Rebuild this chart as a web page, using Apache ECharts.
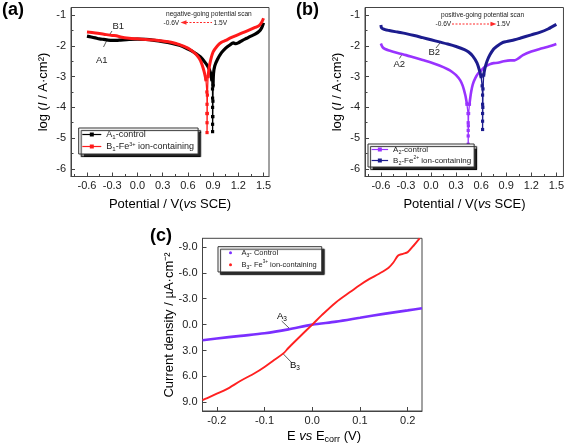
<!DOCTYPE html>
<html><head><meta charset="utf-8">
<script src="https://cdn.jsdelivr.net/npm/echarts@6/dist/echarts.min.js"></script>
<style>html,body{margin:0;padding:0;background:#fff}#c{width:567px;height:445px}</style>
</head><body><div id="c"></div>
<script>
// ---------------- data ----------------
const potentialTicks = [-0.6, -0.3, 0, 0.3, 0.6, 0.9, 1.2, 1.5];
const potentialMinorTicks = [-0.75, -0.45, -0.15, 0.15, 0.45, 0.75, 1.05, 1.35];
const logTicks = [-6, -5, -4, -3, -2, -1];
const logMinorTicks = [-5.5, -4.5, -3.5, -2.5, -1.5];
const eTicks = [-0.2, -0.1, 0, 0.1, 0.2];
const currentTicks = [-9, -6, -3, 0, 3, 6, 9];

// (a) negative-going scan  [potential V, log I]
const a1Cathodic = [[-0.6,-1.68],[-0.55,-1.71],[-0.5,-1.74],[-0.45,-1.77],[-0.4,-1.79],[-0.35,-1.81],[-0.3,-1.82],[-0.25,-1.82],[-0.2,-1.81],[-0.1,-1.79],[0,-1.78],[0.1,-1.79],[0.2,-1.82],[0.3,-1.86],[0.4,-1.91],[0.5,-1.98],[0.6,-2.1],[0.65,-2.17],[0.7,-2.26],[0.75,-2.36],[0.8,-2.52],[0.84,-2.68],[0.87,-2.88],[0.885,-3.1]];
const a1Spike = [[0.885,-3.1],[0.893,-3.4],[0.894,-3.7],[0.894,-4.0],[0.894,-4.3],[0.894,-4.55],[0.894,-4.79],[0.896,-4.3],[0.898,-3.8],[0.9,-3.3]];
const a1Anodic = [[0.9,-3.3],[0.905,-2.9],[0.92,-2.65],[0.95,-2.45],[1.0,-2.22],[1.05,-2.07],[1.1,-1.97],[1.14,-1.9],[1.17,-1.93],[1.2,-1.9],[1.25,-1.82],[1.3,-1.75],[1.35,-1.68],[1.4,-1.62],[1.45,-1.52],[1.48,-1.4],[1.5,-1.25]];
const b1Cathodic = [[-0.6,-1.55],[-0.5,-1.58],[-0.4,-1.62],[-0.3,-1.66],[-0.25,-1.67],[-0.2,-1.71],[-0.1,-1.75],[0,-1.77],[0.1,-1.79],[0.2,-1.81],[0.3,-1.84],[0.4,-1.88],[0.5,-1.96],[0.6,-2.07],[0.65,-2.16],[0.7,-2.28],[0.75,-2.48],[0.79,-2.8],[0.815,-3.1]];
const b1Spike = [[0.815,-3.1],[0.826,-3.5],[0.828,-3.9],[0.828,-4.2],[0.828,-4.5],[0.828,-4.82],[0.83,-4.2],[0.832,-3.6],[0.84,-3.0]];
const b1Anodic = [[0.84,-3.0],[0.86,-2.6],[0.9,-2.2],[0.95,-2.0],[1.0,-1.88],[1.05,-1.82],[1.1,-1.75],[1.15,-1.69],[1.2,-1.63],[1.3,-1.52],[1.4,-1.4],[1.45,-1.33],[1.48,-1.22],[1.5,-1.1]];

// (b) positive-going scan
const a2Cathodic = [[-0.6,-1.92],[-0.58,-2.04],[-0.55,-2.1],[-0.5,-2.15],[-0.4,-2.23],[-0.3,-2.3],[-0.2,-2.38],[-0.1,-2.46],[0,-2.54],[0.1,-2.64],[0.2,-2.76],[0.25,-2.84],[0.3,-2.95],[0.35,-3.12],[0.38,-3.3],[0.41,-3.6],[0.43,-3.9]];
const a2Spike = [[0.43,-3.9],[0.443,-4.2],[0.445,-4.5],[0.445,-4.75],[0.445,-4.93],[0.445,-5.2],[0.447,-4.6],[0.45,-4.2],[0.46,-3.9]];
const a2Anodic = [[0.46,-3.9],[0.48,-3.5],[0.5,-3.25],[0.53,-3.05],[0.565,-2.89],[0.6,-2.8],[0.645,-2.68],[0.7,-2.6],[0.75,-2.56],[0.8,-2.55],[0.87,-2.5],[0.95,-2.47],[1.0,-2.47],[1.05,-2.4],[1.1,-2.3],[1.2,-2.18],[1.3,-2.1],[1.4,-2.03],[1.5,-1.94]];
const b2Cathodic = [[-0.6,-1.32],[-0.59,-1.42],[-0.55,-1.47],[-0.5,-1.5],[-0.4,-1.55],[-0.3,-1.6],[-0.2,-1.66],[-0.1,-1.73],[0,-1.8],[0.1,-1.87],[0.2,-1.94],[0.3,-2.02],[0.4,-2.12],[0.45,-2.2],[0.5,-2.33],[0.55,-2.55],[0.58,-2.8],[0.6,-3.0]];
const b2Spike = [[0.6,-3.0],[0.612,-3.3],[0.617,-3.6],[0.617,-3.9],[0.617,-4.2],[0.617,-4.45],[0.617,-4.72],[0.62,-4.0],[0.622,-3.4],[0.63,-2.95]];
const b2Anodic = [[0.63,-2.95],[0.645,-2.73],[0.67,-2.5],[0.705,-2.29],[0.75,-2.1],[0.785,-2.02],[0.85,-1.9],[0.9,-1.86],[1.0,-1.8],[1.064,-1.75],[1.2,-1.64],[1.3,-1.56],[1.4,-1.45],[1.5,-1.3]];

// (c) linear polarization  [E vs Ecorr V, current density µA/cm2]
const a3 = [[-0.23,1.8],[-0.2,1.6],[-0.15,1.3],[-0.1,1.0],[-0.05,0.55],[0,0.0],[0.05,-0.35],[0.1,-0.8],[0.15,-1.25],[0.2,-1.65],[0.23,-1.9]];
const b3 = [[-0.23,8.75],[-0.22,8.5],[-0.2,8.0],[-0.18,7.5],[-0.15,6.5],[-0.12,5.6],[-0.1,4.9],[-0.08,4.1],[-0.06,3.3],[-0.05,2.7],[-0.03,1.6],[0,0.0],[0.02,-1.1],[0.05,-2.6],[0.08,-3.8],[0.1,-4.6],[0.12,-5.3],[0.14,-5.9],[0.16,-6.6],[0.17,-7.2],[0.18,-8.0],[0.19,-8.2],[0.2,-8.4],[0.21,-9.0],[0.225,-10.0]];

const legendLabels = {
  A1: '{t|A}{s|1}{t|-control}',
  B1: '{t|B}{s|1}{t|-Fe}{p|3+}{t| ion-containing}',
  A2: '{t|A}{s|2}{t|-control}',
  B2: '{t|B}{s|2}{t|-Fe}{p|2+}{t| ion-containing}',
  A3: '{t|A}{s|3}{t|- Control}',
  B3: '{t|B}{s|3}{t|- Fe}{p|3+}{t| ion-containing}'
};

// ---------------- styling ----------------
const FONT = '"Liberation Sans", Arial, sans-serif';
const AX = '#444';
const C_BLACK = '#000000', C_RED = '#ff1a1a', C_NAVY = '#1c1c8e', C_PURPLE = '#9933ff', C_VIOLET = '#7b2fff', C_RED3 = '#ff2020';

function richFor(size, lh) {
  return {
    t: {fontSize: size, lineHeight: lh, fontFamily: FONT, color: '#222'},
    s: {fontSize: size * 0.68, lineHeight: size * 0.6, verticalAlign: 'bottom', fontFamily: FONT, color: '#222'},
    p: {fontSize: size * 0.62, lineHeight: size * 0.6, verticalAlign: 'top', fontFamily: FONT, color: '#222'}
  };
}

function mainX(grid, min, max, ticks, dec) {
  return {gridIndex: grid, type: 'value', min, max, position: 'bottom',
    axisLine: {show: true, onZero: false, lineStyle: {color: AX, width: 1}},
    axisTick: {show: true, inside: true, length: 4, customValues: ticks, lineStyle: {color: AX}},
    axisLabel: {customValues: ticks, formatter: v => v.toFixed(dec), margin: 4, fontSize: 11, color: '#222', fontFamily: FONT},
    splitLine: {show: false}};
}
function minorX(grid, min, max, ticks) {
  return {gridIndex: grid, type: 'value', min, max, position: 'bottom',
    axisLine: {show: false, onZero: false},
    axisTick: {show: true, inside: true, length: 2.5, customValues: ticks, lineStyle: {color: AX}},
    axisLabel: {show: false}, splitLine: {show: false}};
}
function mainY(grid, min, max, ticks, fmt, inverse) {
  return {gridIndex: grid, type: 'value', min, max, inverse: !!inverse, position: 'left',
    axisLine: {show: true, onZero: false, lineStyle: {color: AX, width: 1}},
    axisTick: {show: true, inside: true, length: 4, customValues: ticks, lineStyle: {color: AX}},
    axisLabel: {customValues: ticks, formatter: fmt, margin: 5, fontSize: 11, color: '#222', fontFamily: FONT},
    splitLine: {show: false}};
}
function minorY(grid, min, max, ticks) {
  return {gridIndex: grid, type: 'value', min, max, position: 'left',
    axisLine: {show: false, onZero: false},
    axisTick: {show: true, inside: true, length: 2.5, customValues: ticks, lineStyle: {color: AX}},
    axisLabel: {show: false}, splitLine: {show: false}};
}
function curve(name, data, color, xi, yi, width) {
  return {name, type: 'line', data, xAxisIndex: xi, yAxisIndex: yi, color,
    symbol: 'rect', symbolSize: 3, showSymbol: false, smooth: 0.3,
    lineStyle: {color, width: width}, itemStyle: {color}, silent: true};
}
function spike(name, data, color, xi, yi) {
  return {name, type: 'line', data, xAxisIndex: xi, yAxisIndex: yi, color,
    symbol: 'rect', symbolSize: 3.2, showSymbol: true, showAllSymbol: true,
    lineStyle: {color, width: 1.3}, itemStyle: {color}, silent: true};
}
function legendBox(left, top, names, size, lh, pad, iw, ih, gap, icon) {
  return {left, top, orient: 'vertical', selectedMode: false,
    data: names.map(n => icon ? {name: n, icon} : {name: n}),
    itemWidth: iw, itemHeight: ih, itemGap: gap, padding: pad,
    backgroundColor: '#fff', borderColor: '#333', borderWidth: 1, borderRadius: 0,
    shadowColor: 'rgba(0,0,0,0.85)', shadowBlur: 1, shadowOffsetX: 2.5, shadowOffsetY: 2.5,
    lineStyle: {width: 1.2}, itemStyle: {borderWidth: 0},
    formatter: n => legendLabels[n],
    textStyle: {fontSize: size, fontFamily: FONT, color: '#222', rich: richFor(size, lh)}};
}
function txt(x, y, text, size, opts) {
  return Object.assign({type: 'text', x, y, silent: true,
    style: Object.assign({text, fontSize: size, fontFamily: FONT, fill: '#222', align: 'left', verticalAlign: 'middle'}, (opts && opts.style) || {})},
    (opts && opts.el) || {});
}
function ln(x1, y1, x2, y2, color, w, dash) {
  return {type: 'line', silent: true, shape: {x1, y1, x2, y2}, style: {stroke: color, lineWidth: w, lineDash: dash || null}};
}
const titleRich = {
  n: {fontSize: 13, lineHeight: 16, fontFamily: FONT, color: '#111'},
  i: {fontSize: 13, lineHeight: 16, fontFamily: FONT, fontStyle: 'italic', color: '#111'},
  sub: {fontSize: 9, lineHeight: 16, padding: [7, 0, 0, 0], fontFamily: FONT, color: '#111'}
};

const option = {
  animation: false,
  backgroundColor: '#fff',
  grid: [
    {left: 71, top: 7.5, width: 198, height: 169, show: true, borderColor: AX, borderWidth: 1, backgroundColor: 'transparent'},
    {left: 365, top: 7.5, width: 199, height: 169, show: true, borderColor: AX, borderWidth: 1, backgroundColor: 'transparent'},
    {left: 202.5, top: 238.3, width: 219.5, height: 172.7, show: true, borderColor: AX, borderWidth: 1, backgroundColor: 'transparent'}
  ],
  xAxis: [
    mainX(0, -0.79, 1.565, potentialTicks, 1),
    minorX(0, -0.79, 1.565, potentialMinorTicks),
    mainX(1, -0.79, 1.585, potentialTicks, 1),
    minorX(1, -0.79, 1.585, potentialMinorTicks),
    mainX(2, -0.23, 0.23, eTicks, 1)
  ],
  yAxis: [
    mainY(0, -6.25, -0.75, logTicks, v => String(v)),
    minorY(0, -6.25, -0.75, logMinorTicks),
    mainY(1, -6.25, -0.75, logTicks, v => String(v)),
    minorY(1, -6.25, -0.75, logMinorTicks),
    mainY(2, -10, 10, currentTicks, v => v.toFixed(1), true)
  ],
  legend: [
    legendBox(78.7, 128, ['A1', 'B1'], 9, 11, [2, 4, 2, 3], 19, 5, 1),
    legendBox(368, 144, ['A2', 'B2'], 8, 10, [1.5, 3, 1.5, 3], 16.5, 5, 1),
    legendBox(218, 246.7, ['A3', 'B3'], 7.5, 10.5, [2, 5, 2, 11], 12, 3, 1.5, 'circle')
  ],
  series: [
    curve('A1', a1Cathodic, C_BLACK, 0, 0, 3.2),
    spike('A1 spike', a1Spike, C_BLACK, 0, 0),
    curve('A1 anodic', a1Anodic, C_BLACK, 0, 0, 3.2),
    curve('B1', b1Cathodic, C_RED, 0, 0, 3),
    spike('B1 spike', b1Spike, C_RED, 0, 0),
    curve('B1 anodic', b1Anodic, C_RED, 0, 0, 3),
    curve('A2', a2Cathodic, C_PURPLE, 2, 2, 2.6),
    spike('A2 spike', a2Spike, C_PURPLE, 2, 2),
    curve('A2 anodic', a2Anodic, C_PURPLE, 2, 2, 2.6),
    curve('B2', b2Cathodic, C_NAVY, 2, 2, 3),
    spike('B2 spike', b2Spike, C_NAVY, 2, 2),
    curve('B2 anodic', b2Anodic, C_NAVY, 2, 2, 3),
    Object.assign(curve('A3', a3, C_VIOLET, 4, 4, 2.6), {symbol: 'circle'}),
    Object.assign(curve('B3', b3, C_RED3, 4, 4, 1.9), {symbol: 'circle'})
  ],
  graphic: [
    // panel letters
    txt(2, 10, '(a)', 18, {style: {fontWeight: 'bold', fill: '#000'}}),
    txt(296, 10, '(b)', 18, {style: {fontWeight: 'bold', fill: '#000'}}),
    txt(150, 236, '(c)', 18, {style: {fontWeight: 'bold', fill: '#000'}}),
    // axis titles
    {type: 'text', x: 43, y: 92, rotation: Math.PI / 2, silent: true,
      style: {text: '{n|log (}{i|I}{n| / A·cm²)}', rich: titleRich, align: 'center', verticalAlign: 'middle'}},
    {type: 'text', x: 337.5, y: 92, rotation: Math.PI / 2, silent: true,
      style: {text: '{n|log (}{i|I}{n| / A·cm²)}', rich: titleRich, align: 'center', verticalAlign: 'middle'}},
    {type: 'text', x: 169, y: 325, rotation: Math.PI / 2, silent: true,
      style: {text: '{n|Current density / µA·cm⁻²}', rich: titleRich, align: 'center', verticalAlign: 'middle'}},
    {type: 'text', x: 170, y: 204, silent: true,
      style: {text: '{n|Potential / V(}{i|vs}{n| SCE)}', rich: titleRich, align: 'center', verticalAlign: 'middle'}},
    {type: 'text', x: 464.5, y: 204, silent: true,
      style: {text: '{n|Potential / V(}{i|vs}{n| SCE)}', rich: titleRich, align: 'center', verticalAlign: 'middle'}},
    {type: 'text', x: 324, y: 436, silent: true,
      style: {text: '{n|E }{i|vs}{n| E}{sub|corr}{n| (V)}', rich: titleRich, align: 'center', verticalAlign: 'middle'}},
    // scan annotations (a)
    txt(166, 14.5, 'negative-going potential scan', 6.6),
    txt(163.5, 23, '-0.6V', 6.6),
    ln(186, 22.5, 212, 22.5, '#ff2a2a', 1, [2, 1.5]),
    {type: 'polygon', silent: true, shape: {points: [[180.5, 22.5], [186.5, 20.3], [186.5, 24.7]]}, style: {fill: '#ff2a2a'}},
    txt(213.5, 23.5, '1.5V', 6.6),
    // scan annotations (b)
    txt(441, 15, 'positive-going potential scan', 6.6),
    txt(435.5, 24.3, '-0.6V', 6.6),
    ln(452, 24, 491, 24, '#ff2a2a', 1, [2, 1.5]),
    {type: 'polygon', silent: true, shape: {points: [[496.5, 24], [490.5, 21.8], [490.5, 26.2]]}, style: {fill: '#ff2a2a'}},
    txt(496.5, 24.5, '1.5V', 6.6),
    // curve labels (a)
    txt(112.5, 26.5, 'B1', 9.5),
    ln(112, 31, 109, 35.5, '#333', 0.8),
    txt(96, 60, 'A1', 9.5),
    ln(103.5, 47, 107, 40, '#333', 0.8),
    // curve labels (b)
    txt(428.5, 52.5, 'B2', 9.5),
    ln(436, 48, 440, 43, '#333', 0.8),
    txt(393.5, 64, 'A2', 9.5),
    ln(399.5, 58.5, 402, 54.3, '#333', 0.8),
    // curve labels (c)
    {type: 'text', x: 277, y: 316.7, silent: true, style: {text: '{t|A}{s|3}', rich: richFor(9.5, 11), align: 'left', verticalAlign: 'middle'}},
    ln(281.7, 321, 289.3, 328.3, '#333', 0.8),
    {type: 'text', x: 290, y: 365.7, silent: true, style: {text: '{t|B}{s|3}', rich: richFor(9.5, 11), align: 'left', verticalAlign: 'middle'}},
    ln(282.7, 353.3, 291.7, 362.7, '#333', 0.8)
  ]
};

const chart = echarts.init(document.getElementById('c'), null, {renderer: 'canvas'});
chart.setOption(option);
</script>
</body></html>
